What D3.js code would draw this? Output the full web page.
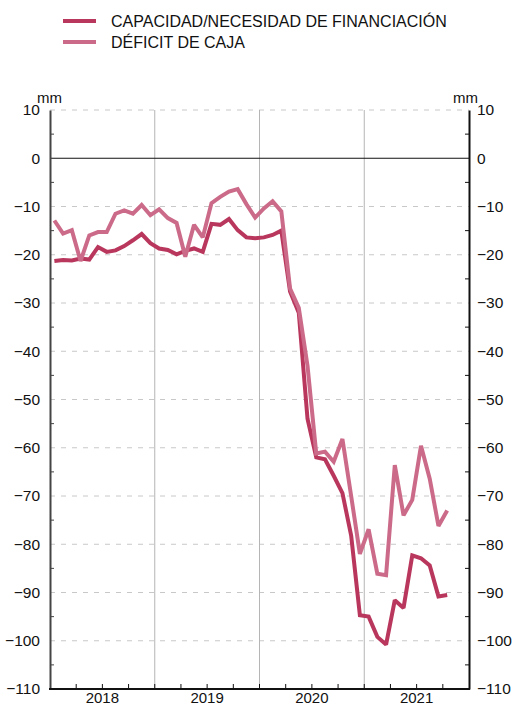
<!DOCTYPE html>
<html><head><meta charset="utf-8">
<script src="https://cdn.jsdelivr.net/npm/d3@7"></script>
<style>body{margin:0;background:#fff}svg{display:block}text{font-family:"Liberation Sans",Arial,sans-serif;fill:#111}</style>
</head><body>
<svg id="c" width="512" height="706"></svg>
<script>
const years = ["2018","2019","2020","2021"];
const seriesNames = ["CAPACIDAD/NECESIDAD DE FINANCIACIÓN","DÉFICIT DE CAJA"];
// monthly values Jan 2018 - Oct 2021
const capacidad = [
 -21.3,-21.1,-21.2,-20.8,-21.0,-18.4,-19.4,-19.1,-18.2,-17.0,-15.7,-17.6,
 -18.7,-19.0,-19.9,-19.2,-18.7,-19.4,-13.6,-13.8,-12.6,-14.9,-16.4,-16.6,
 -16.4,-15.9,-15.0,-27.6,-32.0,-54.0,-62.0,-62.4,-65.8,-69.4,-78.2,-94.7,
 -95.0,-99.2,-100.8,-91.6,-93.2,-82.3,-82.9,-84.4,-90.8,-90.5];
const deficit = [
 -12.9,-15.6,-14.9,-21.3,-16.0,-15.3,-15.3,-11.5,-10.8,-11.5,-9.7,-11.8,
 -10.6,-12.4,-13.4,-20.4,-13.8,-16.4,-9.3,-8.0,-6.9,-6.4,-9.5,-12.3,
 -10.4,-8.9,-11.0,-27.0,-31.0,-43.0,-61.2,-60.8,-62.9,-58.2,-70.0,-82.0,
 -76.9,-86.1,-86.4,-63.6,-74.0,-70.8,-59.6,-66.4,-76.2,-73.0];
const yTicks = [10,0,-10,-20,-30,-40,-50,-60,-70,-80,-90,-100,-110];
const colors = ["#b9375d","#cc6b89"];

const svg = d3.select("#c");
const L=50,R=469,T=110,B=689;
const x = d3.scaleLinear().domain([0,years.length*12]).range([L,R]);
const y = d3.scaleLinear().domain([-110,10]).range([B,T]);

// gridlines
svg.append("g").selectAll("line").data(yTicks.filter(d=>d!==0&&d!==-110)).join("line")
  .attr("x1",L).attr("x2",R).attr("y1",d=>y(d)).attr("y2",d=>y(d))
  .attr("stroke","#c8c8c8").attr("stroke-dasharray","5,6").attr("stroke-width",1);
// year separators
svg.append("g").selectAll("line").data(d3.range(1,years.length)).join("line")
  .attr("x1",d=>x(d*12)).attr("x2",d=>x(d*12)).attr("y1",T).attr("y2",B)
  .attr("stroke","#b5b5b5").attr("stroke-width",1);
// zero line
svg.append("line").attr("x1",L).attr("x2",R).attr("y1",y(0)).attr("y2",y(0)).attr("stroke","#111").attr("stroke-width",1.2);

// axes
const minor = d3.range(-105,10,10);
const left = d3.axisLeft(y).tickValues(yTicks).tickSize(0).tickPadding(10).tickFormat(d3.format("d"));
const gl = svg.append("g").attr("transform",`translate(${L},0)`).call(left);
gl.select(".domain").attr("stroke","#444").attr("stroke-width",2);
gl.selectAll("text").attr("font-size",15.5).attr("fill","#111");
svg.append("g").selectAll("line").data(minor).join("line")
  .attr("x1",L).attr("x2",L+4).attr("y1",d=>y(d)).attr("y2",d=>y(d)).attr("stroke","#444");
const right = d3.axisRight(y).tickValues(yTicks).tickSize(0).tickPadding(8).tickFormat(d3.format("d"));
const gr = svg.append("g").attr("transform",`translate(${R},0)`).call(right);
gr.select(".domain").attr("stroke","#111").attr("stroke-width",2);
gr.selectAll("text").attr("font-size",15.5).attr("fill","#111");
svg.append("g").selectAll("line").data(minor).join("line")
  .attr("x1",R-4).attr("x2",R).attr("y1",d=>y(d)).attr("y2",d=>y(d)).attr("stroke","#111");

// bottom axis
svg.append("line").attr("x1",L-1).attr("x2",R+1).attr("y1",B).attr("y2",B).attr("stroke","#111").attr("stroke-width",2);
svg.append("g").selectAll("line").data(d3.range(3,years.length*12,3)).join("line")
  .attr("x1",d=>x(d)).attr("x2",d=>x(d)).attr("y1",B).attr("y2",B-5).attr("stroke","#111");
svg.append("g").selectAll("text").data(years).join("text")
  .attr("x",(d,i)=>x(i*12+6)).attr("y",B+14).attr("text-anchor","middle").attr("font-size",15).text(d=>d);

// unit labels
svg.append("text").attr("x",37).attr("y",103).attr("font-size",15).text("mm");
svg.append("text").attr("x",453).attr("y",103).attr("font-size",15).text("mm");

// lines
const line = d3.line().x((d,i)=>x(i+0.5)).y(d=>y(d)).curve(d3.curveLinear);
[capacidad,deficit].forEach((s,k)=>{
  svg.append("path").datum(s).attr("d",line).attr("fill","none")
    .attr("stroke",colors[k]).attr("stroke-width",4).attr("stroke-linejoin","miter").attr("stroke-miterlimit",2);
});

// legend
const lg = svg.append("g");
seriesNames.forEach((n,k)=>{
  lg.append("line").attr("x1",63).attr("x2",96).attr("y1",21+k*21).attr("y2",21+k*21)
    .attr("stroke",colors[k]).attr("stroke-width",4);
  lg.append("text").attr("x",111).attr("y",27+k*21).attr("font-size",16).text(n);
});
</script>
</body></html>
